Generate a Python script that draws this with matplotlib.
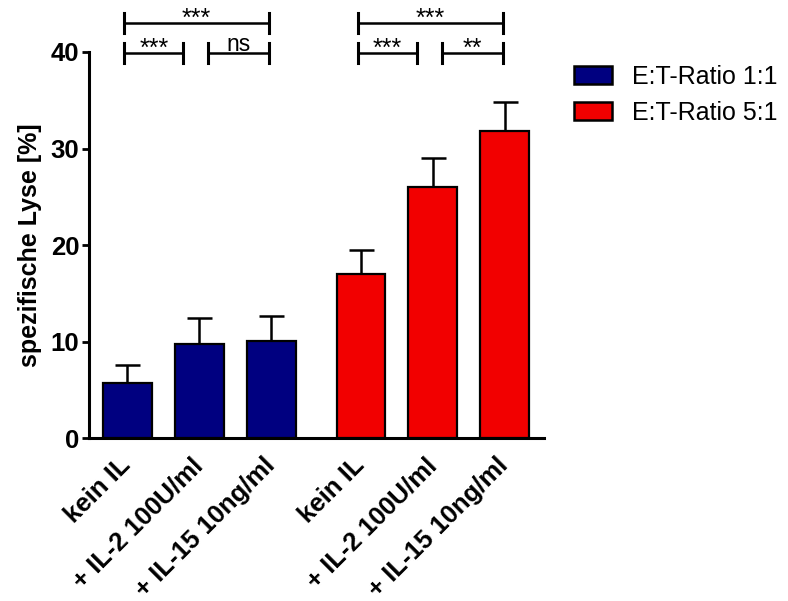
import numpy as np
import matplotlib.pyplot as plt
from matplotlib.patches import Patch

plt.rcParams['font.family'] = ['Liberation Sans', 'DejaVu Sans']

# dados
categorias = ["kein IL", "+ IL-2 100U/ml", "+ IL-15 10ng/ml"]
serie_1 = [5.7, 9.7, 10.1]     # E:T 1:1
erro_1 = [1.9, 2.7, 2.6]
serie_5 = [17.0, 26.0, 31.8]   # E:T 5:1
erro_5 = [2.5, 3.0, 3.0]
nomes = ["E:T-Ratio 1:1", "E:T-Ratio 5:1"]
cores = ["#000080", "#f20000"]

# comparacoes: (i, j, texto, nivel)
comparacoes = [(0, 1, "***", 0), (1, 2, "ns", 0), (0, 2, "***", 1)]
comparacoes_5 = [(0, 1, "***", 0), (1, 2, "**", 0), (0, 2, "***", 1)]

fig = plt.figure(figsize=(7.88, 6.01), dpi=100)
ax = fig.add_axes([0.113, 0.271, 0.577, 0.6425])

x1 = np.arange(3)
x5 = np.arange(3) + 3.25
larg = 0.68
ax.bar(x1, serie_1, larg, color=cores[0], edgecolor="black", linewidth=1.6, zorder=3)
ax.bar(x5, serie_5, larg, color=cores[1], edgecolor="black", linewidth=1.6, zorder=3)

for xs, ys, es in [(x1, serie_1, erro_1), (x5, serie_5, erro_5)]:
    ax.errorbar(xs, ys, yerr=[np.zeros(3), es], fmt="none", ecolor="black",
                elinewidth=1.8, capsize=9, capthick=1.8, zorder=2)


def colchete(ax, xa, xb, y, texto):
    ax.plot([xa, xb], [y, y], color="black", lw=1.8, clip_on=False)
    for xx in (xa, xb):
        ax.plot([xx, xx], [y - 1.05, y + 1.05], color="black", lw=2.2, clip_on=False)
    if "*" in texto:
        # asterisco fica alto na fonte, baixa um pouco
        ax.annotate(texto, ((xa + xb) / 2, y), xytext=(0, -2.0),
                    textcoords="offset points", ha="center", va="baseline",
                    fontsize=18, annotation_clip=False)
    else:
        ax.annotate(texto, ((xa + xb) / 2, y), xytext=(0, 1.5),
                    textcoords="offset points", ha="center", va="baseline",
                    fontsize=16.5, annotation_clip=False)


for xs, comps in [(x1, comparacoes), (x5, comparacoes_5)]:
    for i, j, txt, nivel in comps:
        if nivel == 1:
            colchete(ax, xs[i] - 0.04, xs[j] - 0.03, 43.0, txt)
        else:
            xa = xs[i] - 0.04 if i == 0 else xs[i] + 0.13
            xb = xs[j] - 0.22 if j == 1 else xs[j] - 0.03
            colchete(ax, xa, xb, 39.9, txt)

ax.set_ylim(0, 40)
ax.set_xlim(-0.53, 5.79)
ax.set_yticks([0, 10, 20, 30, 40])
ax.set_xticks(np.concatenate([x1, x5]))
# va center puxa os rotulos para a esquerda
ax.set_xticklabels(categorias + categorias, rotation=45, ha="right", va="center",
                   rotation_mode="anchor", fontsize=18.5, fontweight="bold")
for lb in ax.get_yticklabels():
    lb.set_fontweight("bold")
ax.tick_params(axis="y", labelsize=18.5, width=2, length=5, direction="out", pad=2)
ax.tick_params(axis="x", length=0, pad=17)
ax.spines["top"].set_visible(False)
ax.spines["right"].set_visible(False)
ax.spines["left"].set_linewidth(2.2)
ax.spines["bottom"].set_linewidth(2.2)
ax.set_ylabel("spezifische Lyse [%]", fontsize=18, fontweight="bold", labelpad=6)

handles = [Patch(facecolor=c, edgecolor="black", linewidth=1.8) for c in cores]
fig.legend(handles, nomes, loc="upper left", bbox_to_anchor=(0.70, 0.93),
           frameon=False, fontsize=18, handlelength=1.5, handleheight=0.72,
           handletextpad=0.8, labelspacing=0.5)

fig.savefig("out.png", dpi=100)
